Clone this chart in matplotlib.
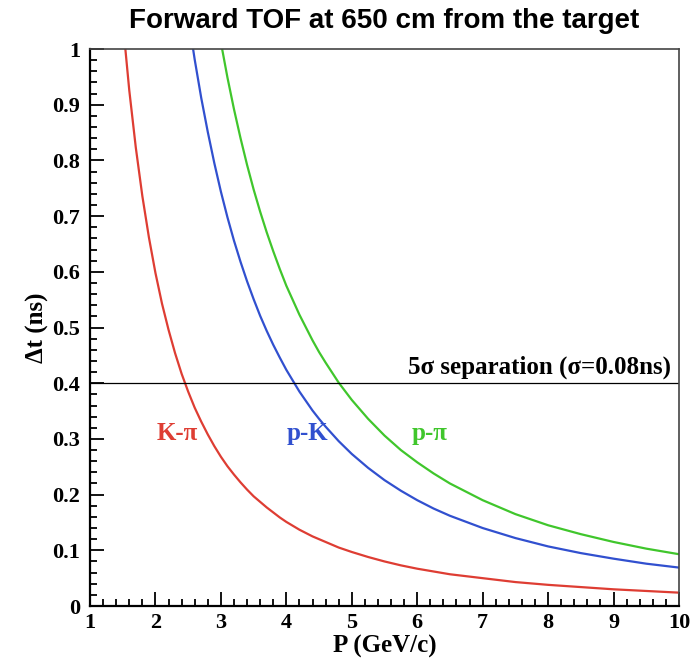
import matplotlib
matplotlib.use('Agg')
import matplotlib.pyplot as plt
from matplotlib.ticker import MultipleLocator

# momentum points (GeV/c) and time-of-flight differences (ns) over 650 cm
p_vals = [1.5, 1.6, 1.7, 1.8, 1.9, 2.0, 2.1, 2.2, 2.3, 2.4, 2.5, 2.6, 2.7, 2.8, 2.9,
          3.0, 3.1, 3.2, 3.3, 3.4, 3.5, 3.6, 3.7, 3.8, 3.9, 4.0, 4.2, 4.4, 4.5, 4.6,
          4.8, 5.0, 5.25, 5.5, 5.75, 6.0, 6.25, 6.5, 7.0, 7.5, 8.0, 8.5, 9.0, 9.5, 10.0]
dt_k_pi = [1.050, 0.926, 0.823, 0.736, 0.662, 0.598, 0.543, 0.496, 0.454, 0.417,
           0.385, 0.356, 0.331, 0.308, 0.287, 0.268, 0.251, 0.236, 0.222, 0.209,
           0.197, 0.187, 0.177, 0.168, 0.159, 0.151, 0.137, 0.125, 0.120, 0.115,
           0.105, 0.097, 0.088, 0.080, 0.073, 0.067, 0.062, 0.057, 0.050, 0.043,
           0.038, 0.034, 0.030, 0.027, 0.024]
dt_p_k = [2.748, 2.444, 2.187, 1.968, 1.780, 1.617, 1.475, 1.350, 1.241, 1.145,
          1.058, 0.981, 0.912, 0.851, 0.795, 0.744, 0.698, 0.656, 0.618, 0.583,
          0.551, 0.521, 0.494, 0.469, 0.446, 0.424, 0.385, 0.351, 0.336, 0.322,
          0.296, 0.273, 0.248, 0.226, 0.207, 0.190, 0.175, 0.162, 0.140, 0.122,
          0.107, 0.095, 0.085, 0.076, 0.069]
dt_p_pi = [3.799, 3.371, 3.010, 2.704, 2.441, 2.215, 2.018, 1.846, 1.695, 1.561,
           1.443, 1.337, 1.243, 1.158, 1.082, 1.012, 0.949, 0.892, 0.840, 0.792,
           0.748, 0.708, 0.671, 0.637, 0.605, 0.575, 0.523, 0.477, 0.456, 0.437,
           0.401, 0.370, 0.336, 0.306, 0.280, 0.258, 0.238, 0.220, 0.190, 0.165,
           0.145, 0.129, 0.115, 0.103, 0.093]

y_ticks = [0, 0.1, 0.2, 0.3, 0.4, 0.5, 0.6, 0.7, 0.8, 0.9, 1.0]
y_ticklabels = ['0', '0.1', '0.2', '0.3', '0.4', '0.5', '0.6', '0.7', '0.8', '0.9', '1']
x_ticks = [1, 2, 3, 4, 5, 6, 7, 8, 9, 10]

sep_cut = 0.4  # 5 sigma with sigma = 0.08 ns

red = '#de3d33'
blue = '#3150cf'
green = '#40c62c'

serif = ['Liberation Serif', 'DejaVu Serif']

fig = plt.figure(figsize=(6.96, 6.59), dpi=100)
ax = fig.add_axes([0.1293, 0.0804, 0.8463, 0.8452])

ax.plot(p_vals, dt_k_pi, color=red, lw=1.6)
ax.plot(p_vals, dt_p_k, color=blue, lw=1.6)
ax.plot(p_vals, dt_p_pi, color=green, lw=1.6)
ax.axhline(sep_cut, color='black', lw=0.9)

ax.set_xlim(1, 10)
ax.set_ylim(0, 1)

ax.text(9.87, sep_cut + 0.008, '5\u03c3 separation (\u03c3=0.08ns)', ha='right', va='bottom',
        fontsize=18, fontweight='bold', family=serif)
ax.text(2.33, 0.31, 'K-\u03c0', color=red, ha='center', va='center',
        fontsize=18, fontweight='bold', family=serif)
ax.text(4.33, 0.31, 'p-K', color=blue, ha='center', va='center',
        fontsize=18, fontweight='bold', family=serif)
ax.text(6.19, 0.31, 'p-\u03c0', color=green, ha='center', va='center',
        fontsize=18, fontweight='bold', family=serif)

ax.set_xticks(x_ticks)
ax.set_yticks(y_ticks, y_ticklabels)
ax.xaxis.set_minor_locator(MultipleLocator(0.2))
ax.yaxis.set_minor_locator(MultipleLocator(0.02))
ax.tick_params(which='both', direction='in', top=False, right=False, width=1.3)
ax.tick_params(which='major', length=10, labelsize=16)
ax.tick_params(axis='x', which='major', pad=5)
ax.tick_params(axis='y', which='major', pad=7)
ax.tick_params(which='minor', length=5)
for lab in ax.get_xticklabels() + ax.get_yticklabels():
    lab.set_family(serif)
    lab.set_fontweight('bold')

for side in ['left', 'bottom']:
    ax.spines[side].set_linewidth(1.6)
for side in ['top', 'right']:
    ax.spines[side].set_linewidth(1.2)
    ax.spines[side].set_color('#444444')

ax.set_xlabel('P (GeV/c)', fontsize=18, fontweight='bold', family=serif)
ax.set_ylabel('\u0394t (ns)', fontsize=18, fontweight='bold', family=serif)
ax.xaxis.set_label_coords(0.5, -0.052)
ax.yaxis.set_label_coords(-0.069, 0.5)
ax.set_title('Forward TOF at 650 cm from the target', fontsize=20, fontweight='bold',
             family=['Liberation Sans', 'DejaVu Sans'], pad=15)

fig.savefig('out.png', dpi=100)
